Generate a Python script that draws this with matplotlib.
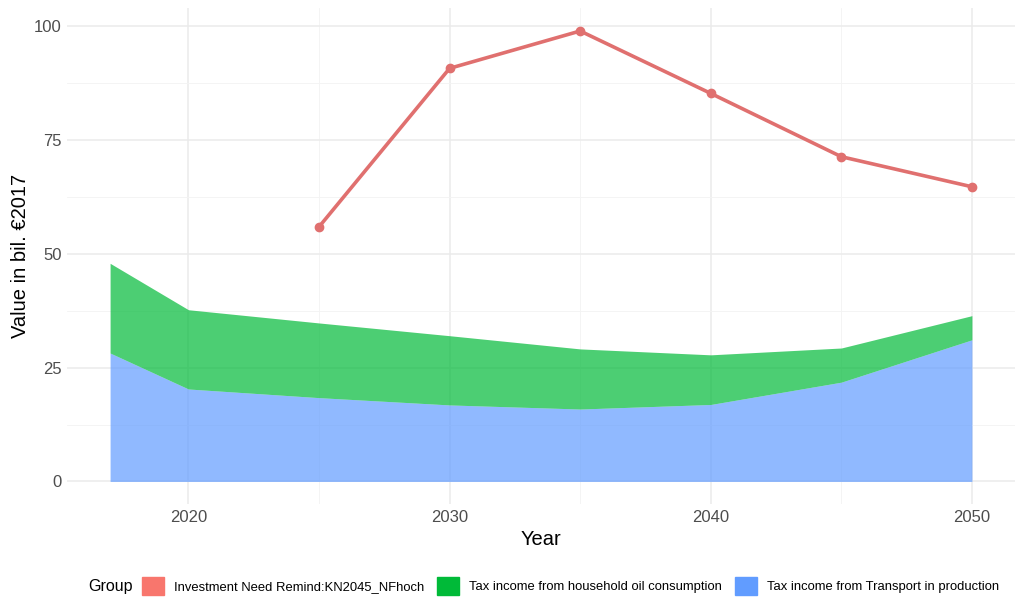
import matplotlib.pyplot as plt
from matplotlib.patches import Patch
import numpy as np

plt.rcParams['font.family'] = ['Liberation Sans', 'DejaVu Sans']

years = [2017, 2020, 2025, 2030, 2035, 2040, 2045, 2050]
transport = [28.2, 20.3, 18.4, 16.8, 15.9, 16.9, 21.8, 31.1]
oil = [19.7, 17.4, 16.4, 15.2, 13.2, 10.9, 7.5, 5.3]

inv_years = [2025, 2030, 2035, 2040, 2045, 2050]
investment = [55.9, 90.7, 98.9, 85.2, 71.3, 64.7]

labels = ['Investment Need Remind:KN2045_NFhoch',
          'Tax income from household oil consumption',
          'Tax income from Transport in production']
colors = ['#F8766D', '#00BA38', '#619CFF']

fig = plt.figure(figsize=(10.24, 6.14), dpi=100)
ax = fig.add_axes([67 / 1024, 1 - 504 / 614, (1015 - 67) / 1024, (504 - 8) / 614])

transport = np.array(transport)
top = transport + np.array(oil)
ax.fill_between(years, 0, transport, color=colors[2], alpha=0.7, lw=0, zorder=2)
ax.fill_between(years, transport, top, color=colors[1], alpha=0.7, lw=0, zorder=2)
ax.plot(inv_years, investment, color='#E0706F', lw=2.6, marker='o', ms=6, zorder=3)

ax.set_xlim(2015.35, 2051.65)
ax.set_ylim(-4.95, 103.95)
ax.set_xticks([2020, 2030, 2040, 2050])
ax.set_xticks([2025, 2035, 2045], minor=True)
ax.set_yticks([0, 25, 50, 75, 100])
ax.set_yticks([12.5, 37.5, 62.5, 87.5], minor=True)
ax.grid(which='major', color='#EBEBEB', lw=1.1, zorder=0)
ax.grid(which='minor', color='#F3F3F3', lw=0.6, zorder=0)
ax.set_axisbelow(True)
for s in ax.spines.values():
    s.set_visible(False)
ax.tick_params(which='both', length=0, labelsize=12, labelcolor='#4D4D4D', pad=4)

ax.set_xlabel('Year', fontsize=14.5, labelpad=4)
ax.set_ylabel('Value in bil. €2017', fontsize=14.5, labelpad=3)

handles = [Patch(color=c) for c in colors]
fig.text(88 / 1024, 1 - 586 / 614, 'Group', fontsize=11.5, va='center', ha='left')
fig.legend(handles, labels, loc='center left', bbox_to_anchor=(142 / 1024, 1 - 586 / 614),
           ncol=3, frameon=False, fontsize=9.4, handlelength=1.7, handleheight=1.7,
           handletextpad=0.75, columnspacing=1.0, borderpad=0, borderaxespad=0)

fig.savefig('out.png', dpi=100)
